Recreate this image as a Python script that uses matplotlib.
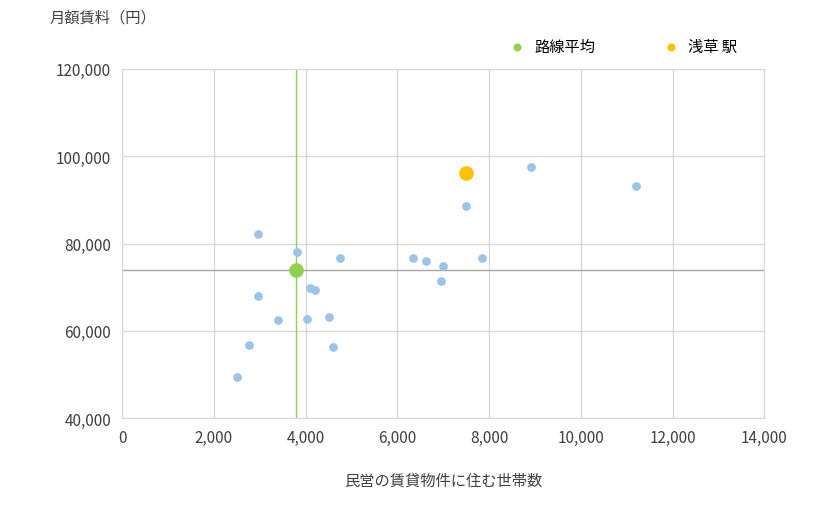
import matplotlib.pyplot as plt
from matplotlib.ticker import FuncFormatter

plt.rcParams['font.family'] = ['Noto Sans CJK JP', 'DejaVu Sans']

households = [2508, 2770, 2966, 2966, 3400, 3816, 4034, 4100, 4210, 4514, 4600,
              4754, 6345, 6629, 7000, 6956, 7501, 7850, 8918, 11208]
rents = [49400, 56700, 68000, 82200, 62500, 78000, 62700, 69800, 69300, 63200, 56300,
         76700, 76700, 76000, 74800, 71400, 88600, 76700, 97500, 93200]
avg_x, avg_y = 3794, 73900
station_x, station_y = 7501, 96200

fig = plt.figure(figsize=(8.2, 5.1), dpi=100)
ax = fig.add_axes([0.149, 0.178, 0.783, 0.685])

ax.scatter(households, rents, s=28, color='#9dc3e6', zorder=3)
ax.axvline(avg_x, color='#92d050', lw=1, zorder=2)
ax.axhline(avg_y, color='#a6a6a6', lw=1, zorder=2)
ax.scatter([avg_x], [avg_y], s=90, color='#92d050', zorder=4, label='路線平均')
ax.scatter([station_x], [station_y], s=90, color='#ffc000', zorder=4, label='浅草 駅')

ax.set_xlim(0, 14000)
ax.set_ylim(40000, 120000)
ax.set_xticks(range(0, 14001, 2000))
ax.set_yticks(range(40000, 120001, 20000))
fmt = FuncFormatter(lambda v, p: f'{int(v):,}')
ax.xaxis.set_major_formatter(fmt)
ax.yaxis.set_major_formatter(fmt)
ax.grid(color='#d9d9d9', lw=1)
ax.set_axisbelow(True)
for s in ax.spines.values():
    s.set_color('#d9d9d9')
ax.tick_params(length=0, labelsize=11, colors='#404040', pad=8)

ax.set_xlabel('民営の賃貸物件に住む世帯数', fontsize=11, color='#404040', labelpad=18)
fig.text(0.06, 0.955, '月額賃料（円）', fontsize=11, color='#404040')
ax.legend(loc='lower left', bbox_to_anchor=(0.57, 1.0), ncol=2, frameon=False,
          fontsize=11, markerscale=0.5, handletextpad=0.1, columnspacing=4)

fig.savefig('out.png')
